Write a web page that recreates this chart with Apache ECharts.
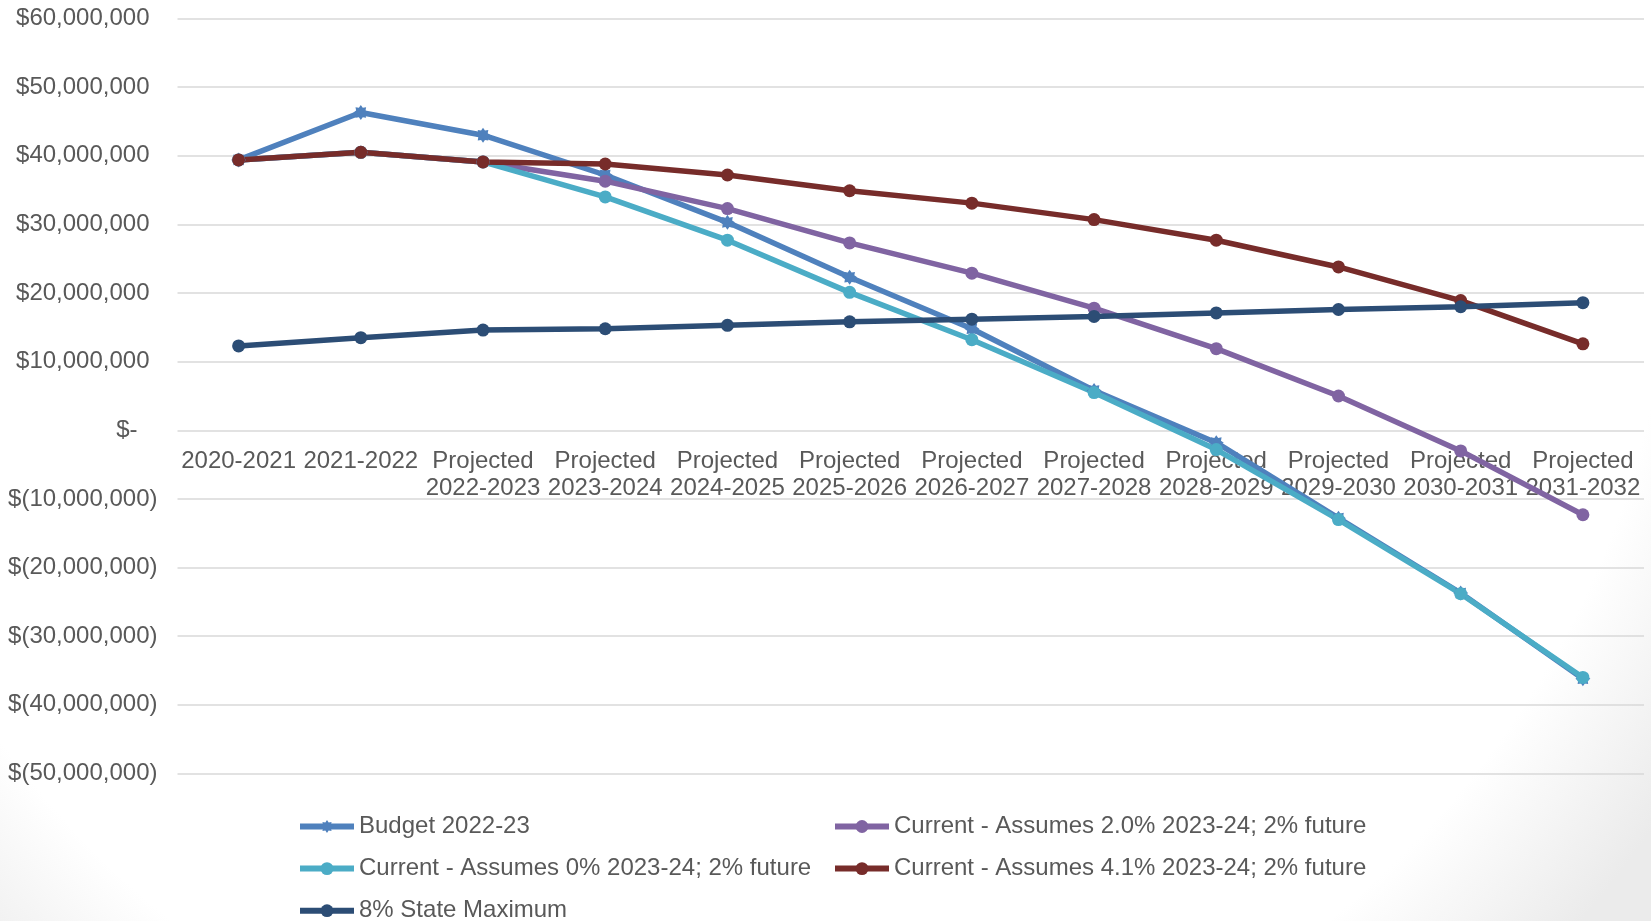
<!DOCTYPE html>
<html>
<head>
<meta charset="utf-8">
<script src="https://cdn.jsdelivr.net/npm/echarts@6/dist/echarts.min.js"></script>
<style>
html,body{margin:0;padding:0;background:#fff;}
#chart{width:1651px;height:921px;}
</style>
</head>
<body>
<div id="chart"></div>
<script>
const categories = ['2020-2021','2021-2022','Projected\n2022-2023','Projected\n2023-2024','Projected\n2024-2025','Projected\n2025-2026','Projected\n2026-2027','Projected\n2027-2028','Projected\n2028-2029','Projected\n2029-2030','Projected\n2030-2031','Projected\n2031-2032'];

const budget2022 = [39400000, 46300000, 43000000, 37200000, 30300000, 22300000, 14800000, 5800000, -1800000, -12800000, -23700000, -36200000];
const current20 = [39400000, 40500000, 39100000, 36300000, 32300000, 27300000, 22900000, 17800000, 11900000, 5000000, -3000000, -12300000];
const current0 = [39400000, 40500000, 39100000, 34000000, 27700000, 20100000, 13200000, 5500000, -2800000, -13000000, -23800000, -36000000];
const current41 = [39400000, 40500000, 39100000, 38800000, 37200000, 34900000, 33100000, 30700000, 27700000, 23800000, 18900000, 12600000];
const stateMax8 = [12300000, 13500000, 14600000, 14800000, 15300000, 15800000, 16200000, 16600000, 17100000, 17600000, 18000000, 18600000];

const seriesNames = ['Budget 2022-23','Current - Assumes 2.0% 2023-24; 2% future','Current - Assumes 0% 2023-24; 2% future','Current - Assumes 4.1% 2023-24; 2% future','8% State Maximum'];

const FONT = '"Liberation Sans", Arial, sans-serif';
const TXT = '#595959';

function starPath(){
  let d = '';
  for (let k = 0; k < 16; k++){
    const a = k * Math.PI / 8;
    const r = (k % 2 === 0) ? 1 : 0.68;
    const x = (Math.sin(a) * r).toFixed(3);
    const y = (-Math.cos(a) * r).toFixed(3);
    d += (k === 0 ? 'M' : 'L') + x + ',' + y + ' ';
  }
  return 'path://' + d + 'Z';
}

function fmtMoney(v){
  if (v === 0) return '{z|$-}';
  const s = Math.abs(v).toLocaleString('en-US');
  if (v < 0) return '{n|$(' + s + ')}';
  return '{p|$' + s + '}';
}

function mkSeries(name, data, color, symbol, size){
  return {
    name: name, type: 'line', data: data,
    symbol: symbol, symbolSize: size,
    lineStyle: {color: color, width: 5.5},
    itemStyle: {color: color},
    emphasis: {disabled: true}
  };
}

function mkLegend(name, left, centerY){
  return {
    data: [name], orient: 'horizontal', left: left, top: centerY - 15,
    padding: 0, itemWidth: 54, itemHeight: 16, itemGap: 0,
    lineStyle: {width: 6},
    textStyle: {fontSize: 24, lineHeight: 30, color: TXT, fontFamily: FONT},
    selectedMode: false
  };
}

const GRID_TOP = 18.5, GRID_BOTTOM = 147.5, H = 921;

const chart = echarts.init(document.getElementById('chart'), null, {renderer: 'canvas'});
chart.setOption({
  animation: false,
  backgroundColor: {
    type: 'radial', x: 750, y: 200, r: 1100, global: true,
    colorStops: [{offset: 0, color: '#ffffff'}, {offset: 0.84, color: '#ffffff'}, {offset: 1, color: '#ebebeb'}]
  },
  textStyle: {fontFamily: FONT},
  grid: {left: 177.5, right: 7, top: GRID_TOP, bottom: GRID_BOTTOM, containLabel: false},
  xAxis: {
    type: 'category', data: categories, boundaryGap: true,
    axisLine: {show: false, onZero: false},
    axisTick: {show: false},
    splitLine: {show: false},
    axisLabel: {
      interval: 0, hideOverlap: false, margin: 18,
      fontSize: 24, lineHeight: 27, color: TXT, fontFamily: FONT,
      verticalAlign: 'top'
    }
  },
  yAxis: {
    type: 'value', min: -50000000, max: 60000000, interval: 10000000,
    axisLine: {show: false}, axisTick: {show: false},
    splitLine: {show: true, lineStyle: {color: '#d9d9d9', width: 1.5}},
    axisLabel: {
      margin: 20, color: TXT, fontSize: 24, fontFamily: FONT,
      formatter: fmtMoney,
      rich: {
        p: {fontSize: 24, color: TXT, fontFamily: FONT, padding: [0, 8, 0, 0]},
        n: {fontSize: 24, color: TXT, fontFamily: FONT},
        z: {fontSize: 24, color: TXT, fontFamily: FONT, padding: [0, 20, 0, 0]}
      }
    }
  },
  legend: [
    mkLegend(seriesNames[0], 297, 826.5),
    mkLegend(seriesNames[1], 832, 826.5),
    mkLegend(seriesNames[2], 297, 868.6),
    mkLegend(seriesNames[3], 832, 868.6),
    mkLegend(seriesNames[4], 297, 910.7)
  ],
  series: [
    mkSeries(seriesNames[0], budget2022, '#4F81BD', starPath(), 15),
    mkSeries(seriesNames[1], current20, '#8064A2', 'circle', 13),
    mkSeries(seriesNames[2], current0, '#4BACC6', 'circle', 13),
    mkSeries(seriesNames[3], current41, '#772C2A', 'circle', 13),
    mkSeries(seriesNames[4], stateMax8, '#2C4D75', 'circle', 13)
  ]
});

// place the category axis (with its labels) on the zero line of the value axis
const zeroY = chart.convertToPixel({yAxisIndex: 0}, 0);
const bottomY = H - GRID_BOTTOM;
chart.setOption({xAxis: {offset: zeroY - bottomY}});
</script>
</body>
</html>
